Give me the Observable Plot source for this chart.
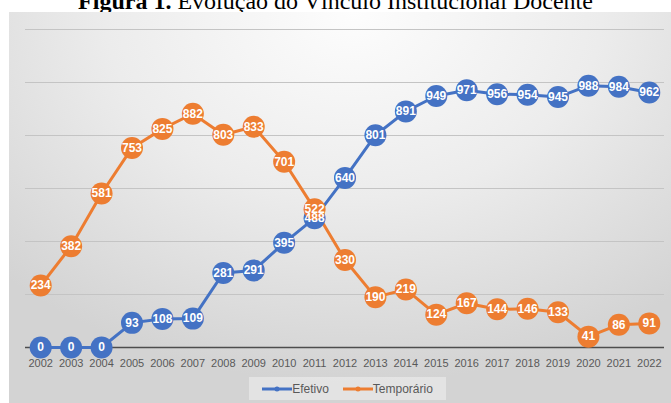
<!DOCTYPE html>
<html><head><meta charset="utf-8">
<script src="https://cdn.jsdelivr.net/npm/d3@7"></script>
<script src="https://cdn.jsdelivr.net/npm/@observablehq/plot@0.6"></script>
<style>
html,body{margin:0;padding:0;background:#fff;width:671px;height:403px;overflow:hidden;}
body{position:relative;}
#title{position:absolute;left:0;top:-11px;width:671px;text-align:center;font-family:"Liberation Serif","Times New Roman",serif;font-size:24px;line-height:24px;color:#000;white-space:nowrap;}
#chart{position:absolute;left:9px;top:12px;width:662px;height:391px;
  background:radial-gradient(ellipse 75% 95% at 52% 0%, #fdfdfd 0%, #ececec 50%, #d3d3d3 100%);}
#chart svg{position:absolute;left:0;top:0;background:transparent;}
#legend{position:absolute;left:240px;top:365px;width:197px;height:23px;background:rgba(240,240,240,0.55);
  display:flex;align-items:center;justify-content:center;gap:14px;font-family:"Liberation Sans",Arial,sans-serif;font-size:12px;color:#595959;}
#legend .item{display:flex;align-items:center;}
#legend svg{position:static;}
</style>
</head><body>
<div id="title"><b>Figura 1.</b> Evolução do Vínculo Institucional Docente</div>
<div id="chart"><div id="legend"></div></div>
<script>
const years = [2002,2003,2004,2005,2006,2007,2008,2009,2010,2011,2012,2013,2014,2015,2016,2017,2018,2019,2020,2021,2022];
const efetivo = [0,0,0,93,108,109,281,291,395,488,640,801,891,949,971,956,954,945,988,984,962];
const temporario = [234,382,581,753,825,882,803,833,701,522,330,190,219,124,167,144,146,133,41,86,91];
const seriesNames = ["Efetivo","Temporário"];
const seriesColors = ["#4472C4","#ED7D31"];
const gridValues = [200,400,600,800,1000,1200];

const dEf = years.map((y,i)=>({year:y, value:efetivo[i], s:seriesNames[0]}));
const dTe = years.map((y,i)=>({year:y, value:temporario[i], s:seriesNames[1]}));

const labelStyle = {fill:"white", fontWeight:"bold", fontSize:12, fontFamily:"Liberation Sans, Arial, sans-serif"};

const plot = Plot.plot({
  width:662, height:370,
  marginLeft:16, marginRight:7, marginTop:17, marginBottom:35,
  x:{domain:[2001.5,2022.5], axis:null},
  y:{domain:[0,1200], axis:null},
  style:{background:"transparent", overflow:"visible"},
  marks:[
    Plot.ruleY(gridValues, {stroke:"#c4c4c4", strokeWidth:1}),
    Plot.ruleY([0], {stroke:"#4d4d4d", strokeWidth:1.5}),
    Plot.axisX({ticks:years, tickFormat:d=>String(d), tickSize:0, tickPadding:12, fontSize:11, fill:"#595959", fontFamily:"Liberation Sans, Arial, sans-serif", label:null}),
    Plot.line(dEf, {x:"year", y:"value", stroke:seriesColors[0], strokeWidth:3}),
    Plot.line(dTe, {x:"year", y:"value", stroke:seriesColors[1], strokeWidth:3}),
    Plot.dot(dEf, {x:"year", y:"value", r:11, fill:seriesColors[0], stroke:"none"}),
    Plot.dot(dTe, {x:"year", y:"value", r:11, fill:seriesColors[1], stroke:"none"}),
    Plot.text(dEf, {x:"year", y:"value", text:d=>String(d.value), ...labelStyle}),
    Plot.text(dTe, {x:"year", y:"value", text:d=>String(d.value), ...labelStyle})
  ]
});
plot.querySelectorAll("text").forEach(t=>{ if(!t.style.fontFamily) t.setAttribute("font-family","Liberation Sans, Arial, sans-serif"); });
document.getElementById("chart").insertBefore(plot, document.getElementById("legend"));

const legend = d3.select("#legend");
seriesNames.forEach((n,i)=>{
  const it = legend.append("div").attr("class","item");
  const s = it.append("svg").attr("width",30).attr("height",8);
  s.append("line").attr("x1",0).attr("x2",30).attr("y1",4).attr("y2",4).attr("stroke",seriesColors[i]).attr("stroke-width",3);
  s.append("circle").attr("cx",15).attr("cy",4).attr("r",2.5).attr("fill",seriesColors[i]);
  it.append("span").text(n);
});
</script>
</body></html>
